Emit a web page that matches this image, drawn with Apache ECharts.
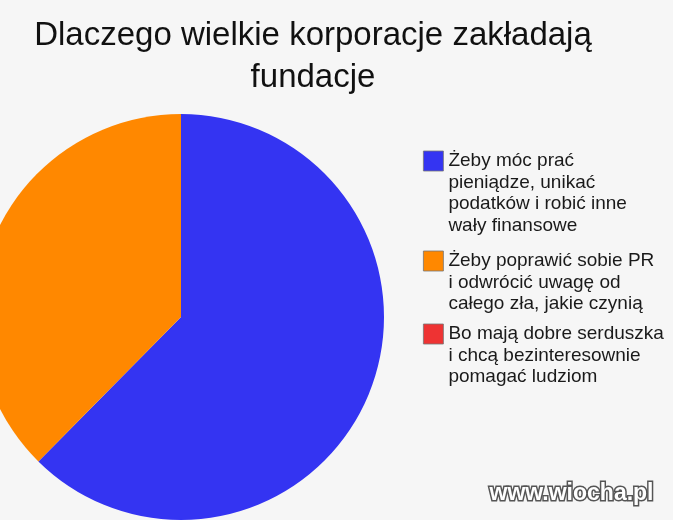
<!DOCTYPE html>
<html>
<head>
<meta charset="utf-8">
<script src="https://cdn.jsdelivr.net/npm/echarts@6/dist/echarts.min.js"></script>
<style>
  html, body { margin: 0; padding: 0; background: #f6f6f6; }
  #chart { width: 673px; height: 520px; }
</style>
</head>
<body>
<div id="chart"></div>
<script>
// data
const categories = [
  'Żeby móc prać\npieniądze, unikać\npodatków i robić inne\nwały finansowe',
  'Żeby poprawić sobie PR\ni odwrócić uwagę od\ncałego zła, jakie czynią',
  'Bo mają dobre serduszka\ni chcą bezinteresownie\npomagać ludziom'
];
const values = [62.4, 37.6, 0];
const colors = ['#3434f2', '#ff8800', '#ee3333'];

// where the legend boxes sit (top edge, px)
const boxTops = [151, 251, 324];
const lineH = 21.5;

const chart = echarts.init(document.getElementById('chart'));

// one legend per item. Legend text is centred on the box, so blank lines are
// put in front of the name to bring its first line level with the box.
const legends = categories.map(function (name, i) {
  const n = name.split('\n').length;
  const blank = '\n'.repeat(n - 1);
  return {
    data: [name],
    orient: 'vertical',
    left: 423,
    top: boxTops[i] + 10 - (2 * n - 1) * lineH / 2,
    padding: 0,
    itemWidth: 20,
    itemHeight: 20,
    icon: 'rect',
    selectedMode: false,
    formatter: function (nm) { return blank + nm; },
    itemStyle: { borderColor: '#777', borderWidth: 0.8 },
    textStyle: {
      fontFamily: 'Liberation Sans',
      fontSize: 19,
      color: '#1a1a1a',
      lineHeight: lineH
    }
  };
});

chart.setOption({
  backgroundColor: '#f6f6f6',
  animation: false,
  color: colors,
  title: {
    text: 'Dlaczego wielkie korporacje zakładają\nfundacje',
    left: 313,
    top: 15,
    padding: 0,
    textAlign: 'center',
    textStyle: {
      fontFamily: 'Liberation Sans',
      fontSize: 33,
      fontWeight: 'normal',
      color: '#111',
      lineHeight: 42
    }
  },
  legend: legends,
  graphic: [{
    type: 'text',
    right: 18,
    top: 481,
    style: {
      text: 'www.wiocha.pl',
      font: 'bold 23px "Liberation Sans"',
      fill: '#fff',
      stroke: '#555',
      lineWidth: 3
    }
  }],
  series: [{
    type: 'pie',
    center: [181, 317],
    radius: 203,
    startAngle: 90,
    clockwise: true,
    label: { show: false },
    labelLine: { show: false },
    emphasis: { disabled: true },
    itemStyle: { borderWidth: 0 },
    data: categories.map(function (name, i) {
      return { name: name, value: values[i] };
    })
  }]
});
</script>
</body>
</html>
